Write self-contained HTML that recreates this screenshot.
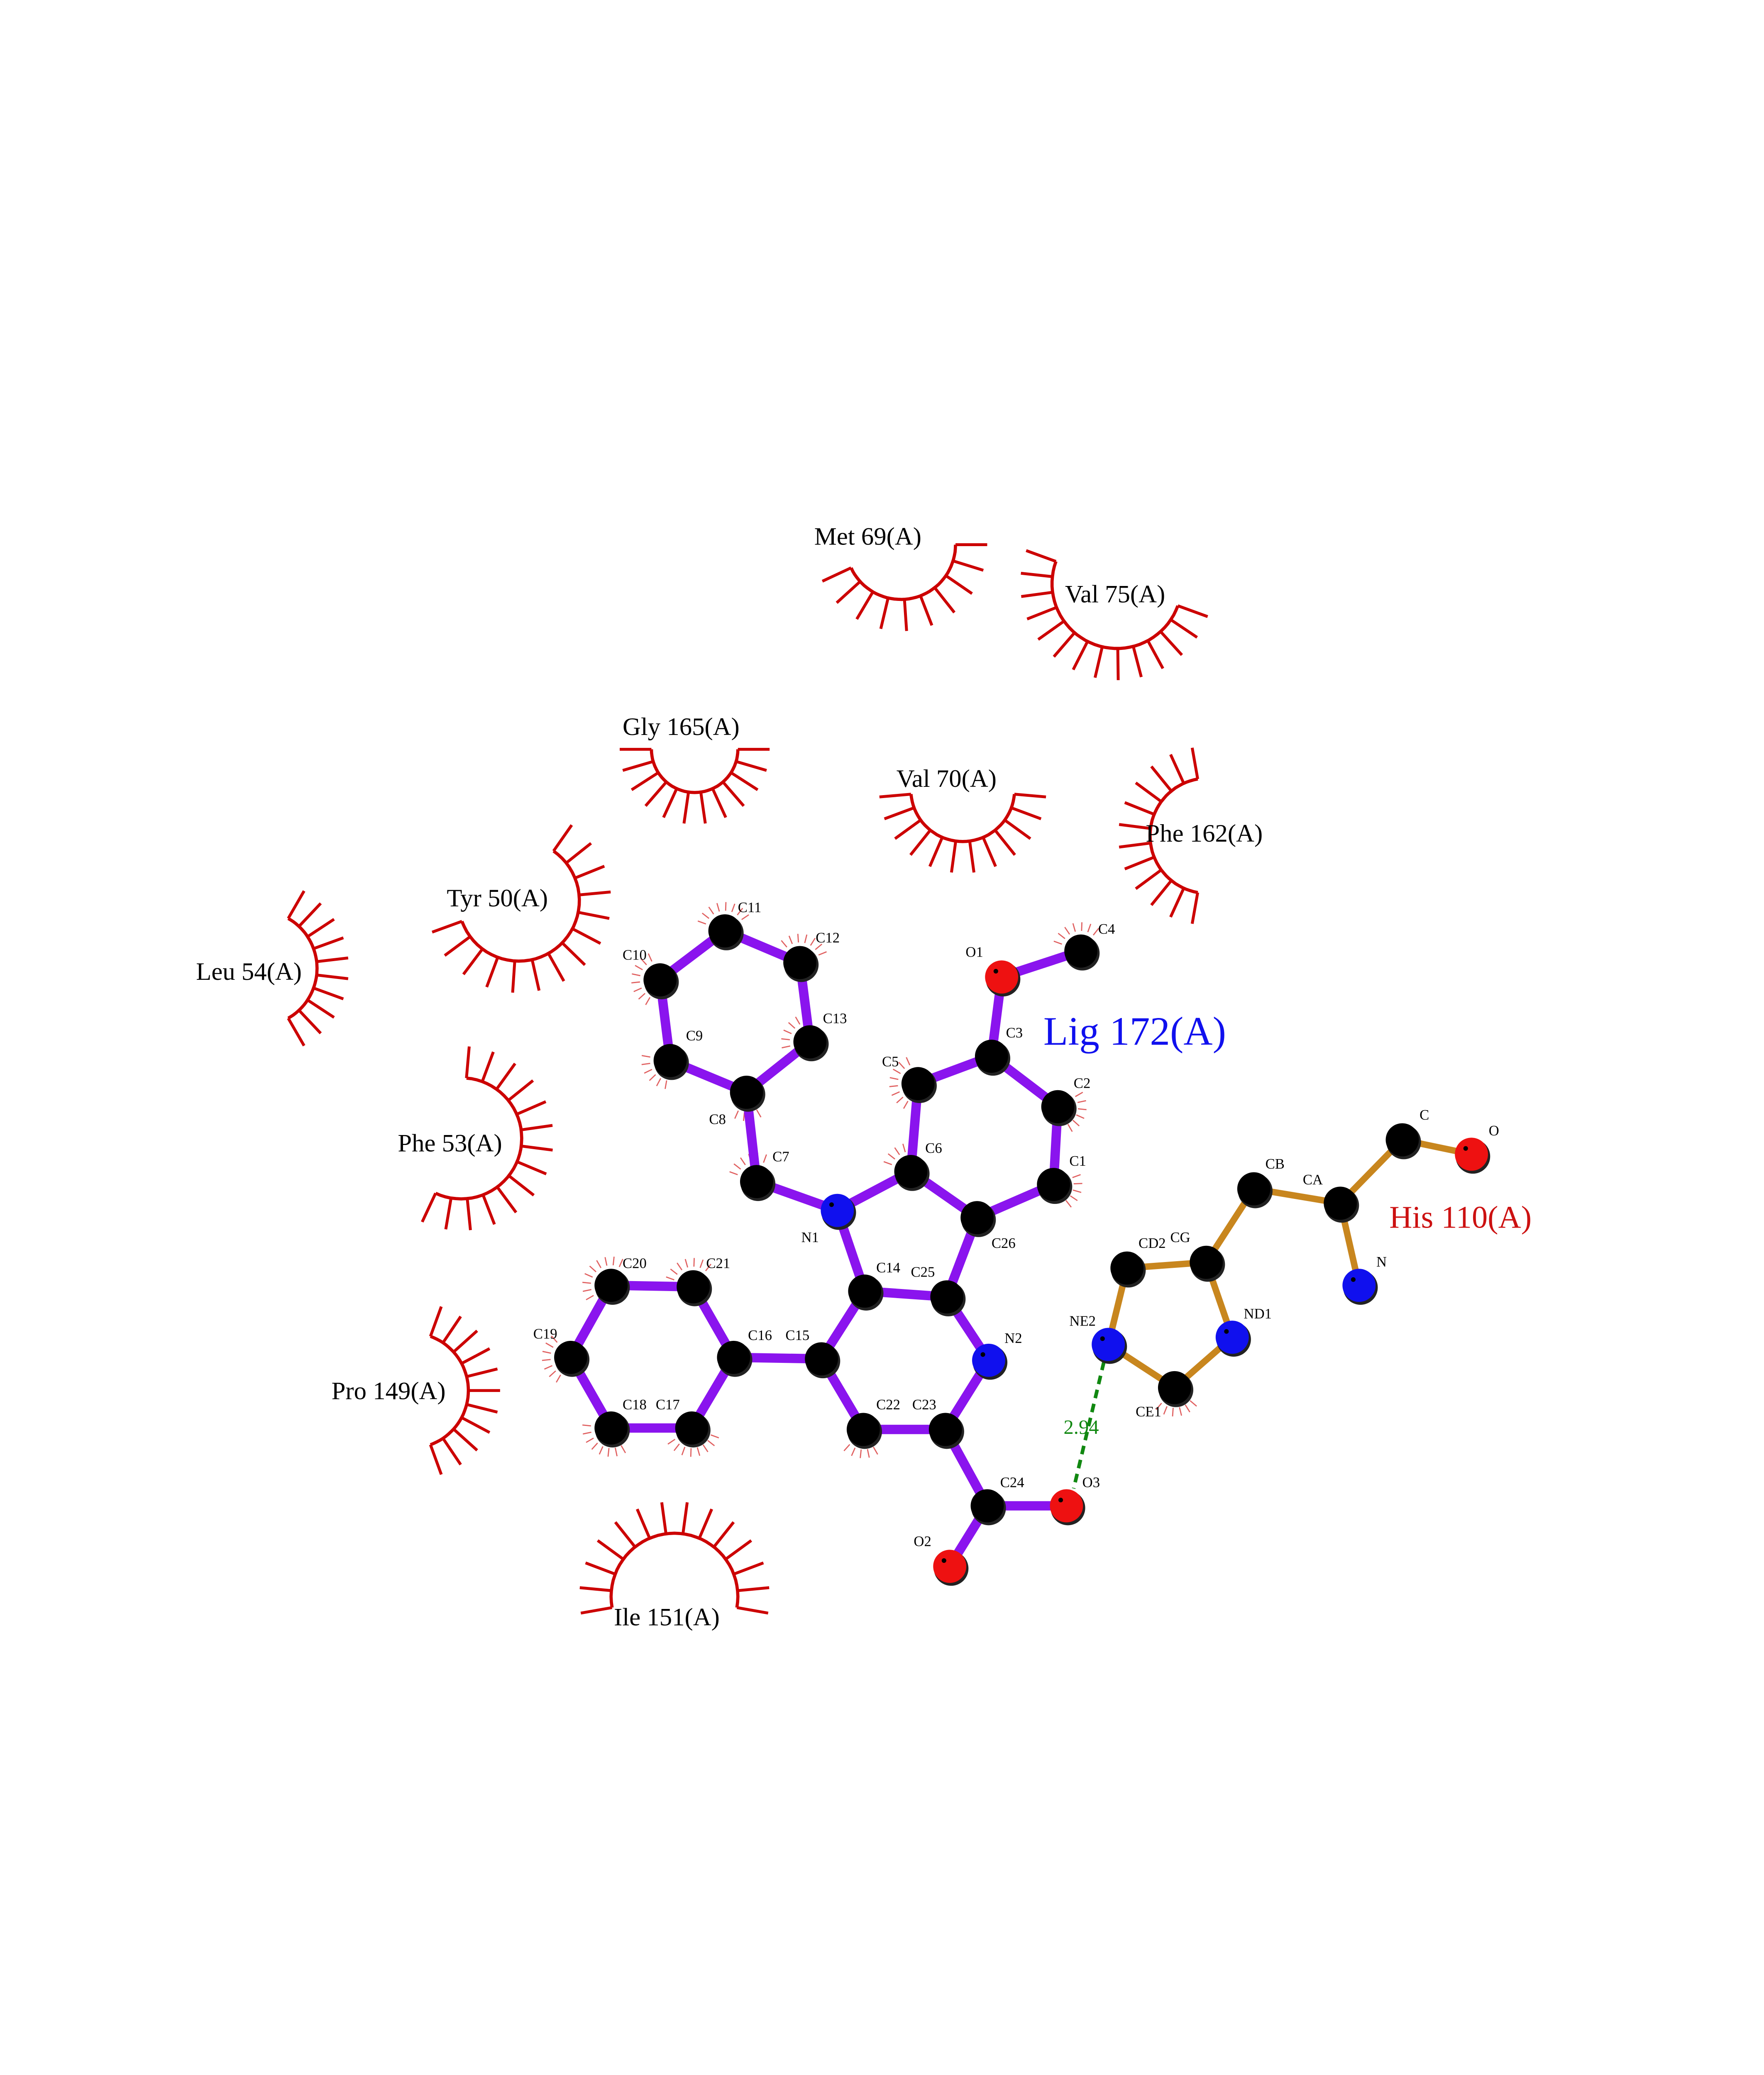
<!DOCTYPE html>
<html><head><meta charset="utf-8"><style>
html,body{margin:0;padding:0;background:#fff;width:4250px;height:5500px;overflow:hidden;}
svg{display:block;}
text{font-family:"Liberation Serif",serif;}
</style></head><body>
<svg id="s" xmlns="http://www.w3.org/2000/svg" width="4250" height="5500" viewBox="0 0 1224 1584">
<rect width="1224" height="1584" fill="#fff"/>
<g id="arcs" stroke="#cc0000" fill="none" stroke-width="2"></g>
<g id="hatch" stroke="#e06060" stroke-width="0.8"></g>
<g id="bonds" stroke-linecap="round"></g>
<line x1="766" y1="945" x2="745" y2="1033" stroke="#118811" stroke-width="2.5" stroke-dasharray="6,4"/>
<g id="atoms"></g>
<g id="labels" font-size="10" fill="#000"></g>
<g font-size="17.5" fill="#000">
<text x="565" y="378">Met 69(A)</text>
<text x="739" y="418">Val 75(A)</text>
<text x="432" y="510">Gly 165(A)</text>
<text x="622" y="546">Val 70(A)</text>
<text x="795" y="584">Phe 162(A)</text>
<text x="310" y="629">Tyr 50(A)</text>
<text x="136" y="680">Leu 54(A)</text>
<text x="276" y="799">Phe 53(A)</text>
<text x="230" y="971">Pro 149(A)</text>
<text x="426" y="1128">Ile 151(A)</text>
</g>
<text x="724" y="725" font-size="28" fill="#1010ee">Lig 172(A)</text>
<text x="964" y="852" font-size="22" fill="#cc1111">His 110(A)</text>
<text x="738" y="995" font-size="14" fill="#118811">2.94</text>
<text x="58" y="1470" font-size="14">.</text>
</svg>
<script>
var NS="http://www.w3.org/2000/svg";
function el(p,t,a){var e=document.createElementNS(NS,t);for(var k in a)e.setAttribute(k,a[k]);p.appendChild(e);return e;}
var A={C11:[503,646],C12:[555,668],C10:[458,680],C13:[562,723],C9:[465,736],C8:[518,758],C7:[525,820],N1:[581,840],C6:[632,813],C5:[637,752],C3:[688,733],O1:[695,678],C4:[750,660],C2:[734,768],C1:[731,822],C26:[678,845],C25:[657,900],C14:[600,896],N2:[686,944],C23:[656,992],C22:[599,992],C15:[570,943],C16:[509,942],C21:[481,893],C20:[424,892],C19:[396,942],C18:[424,991],C17:[480,991],C24:[685,1045],O3:[740,1045],O2:[659,1087],
NE2:[769,933],CD2:[782,880],CG:[837,876],ND1:[855,928],CE1:[815,963],CB:[870,825],CA:[930,835],C:[973,791],O:[1021,801],N:[943,892]};
var LB=[["C11","C12"],["C11","C10"],["C10","C9"],["C12","C13"],["C13","C8"],["C9","C8"],["C8","C7"],["C7","N1"],["N1","C6"],["N1","C14"],["C6","C5"],["C6","C26"],["C5","C3"],["C3","O1"],["O1","C4"],["C3","C2"],["C2","C1"],["C1","C26"],["C26","C25"],["C25","C14"],["C25","N2"],["N2","C23"],["C23","C22"],["C22","C15"],["C15","C14"],["C15","C16"],["C16","C21"],["C21","C20"],["C20","C19"],["C19","C18"],["C18","C17"],["C17","C16"],["C23","C24"],["C24","O3"],["C24","O2"]];
var HB=[["NE2","CD2"],["CD2","CG"],["CG","ND1"],["ND1","CE1"],["CE1","NE2"],["CG","CB"],["CB","CA"],["CA","C"],["C","O"],["CA","N"]];
var b=document.getElementById("bonds");
LB.forEach(function(p){var a=A[p[0]],c=A[p[1]];el(b,"line",{x1:a[0],y1:a[1],x2:c[0],y2:c[1],stroke:"#8a14ee","stroke-width":6.5});});
HB.forEach(function(p){var a=A[p[0]],c=A[p[1]];el(b,"line",{x1:a[0],y1:a[1],x2:c[0],y2:c[1],stroke:"#c8861e","stroke-width":4.5});});
var at=document.getElementById("atoms");
for(var k in A){var p=A[k];var col="#000";if(/^O/.test(k))col="#ee1111";if(k=="N1"||k=="N2"||k=="N"||k=="NE2"||k=="ND1")col="#1010ee";
el(at,"circle",{cx:p[0]+1,cy:p[1]+1.5,r:12,fill:"#222"});el(at,"circle",{cx:p[0],cy:p[1],r:11.5,fill:col});
if(col!="#000")el(at,"circle",{cx:p[0]-4,cy:p[1]-4,r:1.6,fill:"#000"});}
var lab={C11:[512,633],C12:[566,654],C10:[432,666],C13:[571,710],C9:[476,722],C8:[492,780],C7:[536,806],N1:[556,862],C6:[642,800],C5:[612,740],C3:[698,720],O1:[670,664],C4:[762,648],C2:[745,755],C1:[742,809],C26:[688,866],C25:[632,886],C14:[608,883],N2:[697,932],C23:[633,978],C22:[608,978],C15:[545,930],C16:[519,930],C21:[490,880],C20:[432,880],C19:[370,929],C18:[432,978],C17:[455,978],C24:[694,1032],O3:[751,1032],O2:[634,1073],NE2:[742,920],CD2:[790,866],CG:[812,862],ND1:[863,915],CE1:[788,983],CB:[878,811],CA:[904,822],C:[985,777],O:[1033,788],N:[955,879]};
var lg=document.getElementById("labels");
for(var k in lab){var t=el(lg,"text",{x:lab[k][0],y:lab[k][1]});t.textContent=k;}
var ar=document.getElementById("arcs");
function arc(cx,cy,r,L,a0,a1,n){var d="";for(var i=0;i<=40;i++){var a=(a0+(a1-a0)*i/40)*Math.PI/180;d+=(i?"L":"M")+(cx+r*Math.cos(a)).toFixed(1)+","+(cy+r*Math.sin(a)).toFixed(1);}
el(ar,"path",{d:d,"stroke-width":2.2});
for(var i=0;i<n;i++){var a=(a0+(a1-a0)*i/(n-1))*Math.PI/180;el(ar,"line",{x1:cx+r*Math.cos(a),y1:cy+r*Math.sin(a),x2:cx+L*Math.cos(a),y2:cy+L*Math.sin(a)});}}
arc(625,378,38,60,0,155,10);
arc(775,405,45,67,20,200,14);
arc(482,520,30,52,0,180,12);
arc(668,548,36,58,5,175,12);
arc(838,580,40,62,100,260,12);
arc(360,625,42,64,-55,160,14);
arc(180,672,40,62,-60,60,10);
arc(320,790,42,64,-85,115,14);
arc(285,965,40,62,-70,70,11);
arc(468,1108,44,66,170,370,14);
var h=document.getElementById("hatch");
var HA={C11:[200,340],C12:[230,340],C10:[120,250],C13:[150,250],C9:[100,200],C8:[60,120],C7:[200,290],C6:[200,270],C5:[120,250],C4:[200,320],C2:[-30,60],C1:[-20,60],C20:[150,300],C21:[200,320],C19:[120,240],C18:[60,190],C17:[20,160],C22:[60,140],CE1:[40,140]};
for(var k in HA){var p=A[k],a0=HA[k][0],a1=HA[k][1];for(var x=a0;x<=a1;x+=18){var a=x*Math.PI/180;el(h,"line",{x1:p[0]+14*Math.cos(a),y1:p[1]+14*Math.sin(a),x2:p[0]+20*Math.cos(a),y2:p[1]+20*Math.sin(a)});}}
</script>
</body></html>
